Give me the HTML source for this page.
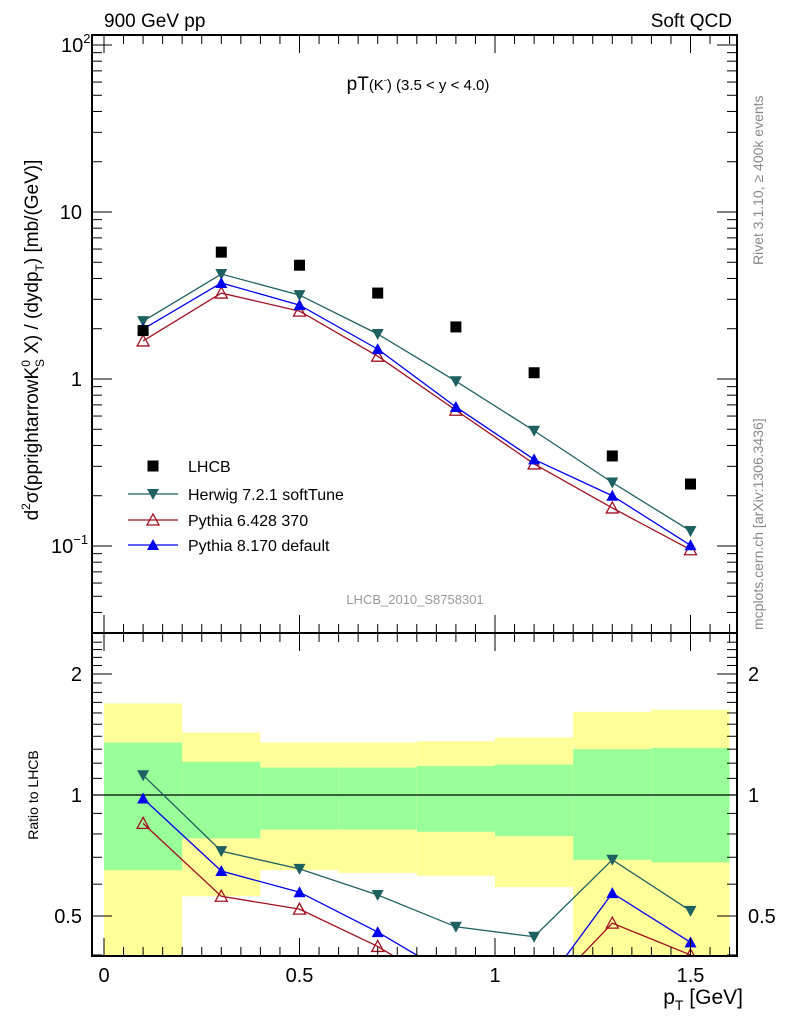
<!DOCTYPE html>
<html><head><meta charset="utf-8">
<style>
html,body{margin:0;padding:0;background:#fff;}
svg{display:block;font-family:"Liberation Sans",sans-serif;}
</style></head>
<body>
<svg id="chart" width="786" height="1024" viewBox="0 0 786 1024">
<text x="104" y="27" font-size="19">900 GeV pp</text>
<text x="732" y="27" font-size="19" text-anchor="end">Soft QCD</text>
<text x="418" y="90" font-size="19" text-anchor="middle">pT<tspan font-size="15">(K</tspan><tspan font-size="9" dy="-7">-</tspan><tspan font-size="15" dy="7">) (3.5 &lt; y &lt; 4.0)</tspan></text>
<text x="415" y="604" font-size="13" fill="#999" text-anchor="middle">LHCB_2010_S8758301</text>
<text transform="translate(763,265) rotate(-90)" font-size="14" fill="#888">Rivet 3.1.10, ≥ 400k events</text>
<text transform="translate(763,630) rotate(-90)" font-size="14" fill="#888">mcplots.cern.ch [arXiv:1306.3436]</text>
<text transform="translate(38,340) rotate(-90)" font-size="19" text-anchor="middle">d<tspan font-size="12" dy="-8">2</tspan><tspan dy="8">σ(pprightarrowK</tspan><tspan font-size="12" dy="-8">0</tspan><tspan font-size="12" dy="14" dx="-7">S</tspan><tspan dy="-6"> X) / (dydp</tspan><tspan font-size="12" dy="6">T</tspan><tspan dy="-6">) [mb/(GeV)]</tspan></text>
<text transform="translate(38,795) rotate(-90)" font-size="14" text-anchor="middle">Ratio to LHCB</text>
<text x="743" y="1004" font-size="21" text-anchor="end">p<tspan font-size="14" dy="6">T</tspan><tspan dy="-6"> [GeV]</tspan></text>
<g id="g"></g>
</svg>
<script>
const xBins=[0,0.2,0.4,0.6,0.8,1.0,1.2,1.4,1.6];
const xCenters=[0.1,0.3,0.5,0.7,0.9,1.1,1.3,1.5];
const lhcb=[1.95,5.75,4.8,3.27,2.05,1.09,0.346,0.235];
const herwig=[2.22,4.25,3.18,1.86,0.97,0.49,0.24,0.123];
const pythia6=[1.69,3.27,2.55,1.37,0.65,0.31,0.169,0.095];
const pythia8=[1.99,3.76,2.77,1.51,0.68,0.33,0.20,0.101];
const herwigRatio=[1.12,0.725,0.655,0.564,0.47,0.444,0.69,0.515];
const pythia6Ratio=[0.85,0.56,0.52,0.42,0.32,0.30,0.48,0.40];
const pythia8Ratio=[0.98,0.647,0.573,0.456,0.35,0.31,0.57,0.43];
const greenHi=[1.35,1.21,1.17,1.17,1.18,1.19,1.30,1.31];
const greenLo=[0.65,0.78,0.82,0.82,0.81,0.79,0.69,0.68];
const yellowHi=[1.69,1.43,1.35,1.35,1.36,1.39,1.61,1.63];
const yellowLo=[0.3,0.56,0.65,0.64,0.63,0.59,0.3,0.3];
const xTicks=[0,0.5,1,1.5];const xTickLabels=["0","0.5","1","1.5"];
const ratioTicks=[0.5,1,2];const ratioTickLabels=["0.5","1","2"];

const NS="http://www.w3.org/2000/svg";
const g=document.getElementById('g');
const L=92,R=737,T=35,B=633,RT=633,RB=956;
const X=v=>104+v*391;
const Y=v=>379-Math.log10(v)*167;
const RY=v=>795-Math.log2(v)*121;
function el(t,a,p){const e=document.createElementNS(NS,t);for(const k in a)e.setAttribute(k,a[k]);(p||g).appendChild(e);return e;}
const clip=el('clipPath',{id:'rc'});el('rect',{x:L,y:RT,width:R-L,height:RB-RT},clip);
const clip2=el('clipPath',{id:'mc'});el('rect',{x:L,y:T,width:R-L,height:B-T},clip2);
const rg=el('g',{'clip-path':'url(#rc)'});
for(let i=0;i<xCenters.length;i++){
 const x0=X(xBins[i]),x1=X(xBins[i+1]);
 const y=el('rect',{x:x0,y:RY(yellowHi[i]),width:x1-x0,height:RY(yellowLo[i])-RY(yellowHi[i]),fill:'#ffff99'},rg);
 
 
 const gr=el('rect',{x:x0,y:RY(greenHi[i]),width:x1-x0,height:RY(greenLo[i])-RY(greenHi[i]),fill:'#99ff99'},rg);
 
 
}
el('line',{x1:L,x2:R,y1:RY(1),y2:RY(1),stroke:'#000','stroke-width':1.2},rg);
function marker(par,type,x,y,c){
 let m;
 if(type==='sq')m=el('rect',{x:x-5.5,y:y-5.5,width:11,height:11,fill:c},par);
 else if(type==='down')m=el('path',{d:`M${x-6},${y-5}L${x+6},${y-5}L${x},${y+6}Z`,fill:c},par);
 else if(type==='up')m=el('path',{d:`M${x-6},${y+5}L${x+6},${y+5}L${x},${y-6}Z`,fill:c},par);
 else m=el('path',{d:`M${x-6},${y+5}L${x+6},${y+5}L${x},${y-6}Z`,fill:'none',stroke:c,'stroke-width':1.3},par);
 return m;
}
function series(par,vals,fy,color,type,name,line){
 if(line){const pl=el('polyline',{points:vals.map((v,i)=>X(xCenters[i])+','+fy(v)).join(' '),fill:'none',stroke:color,'stroke-width':1.3},par);
 
 }
 vals.forEach((v,i)=>{const m=marker(par,type,X(xCenters[i]),fy(v),color);
 
 });
}
const mg=el('g',{'clip-path':'url(#mc)'});
series(mg,herwig,Y,'#1f6060','down','herwig',true);
series(mg,pythia6,Y,'#a01020','open','pythia6',true);
series(mg,pythia8,Y,'#0000ee','up','pythia8',true);
series(mg,lhcb,Y,'#000','sq','lhcb',false);
series(rg,herwigRatio,RY,'#1f6060','down','herwig-ratio',true);
series(rg,pythia6Ratio,RY,'#a01020','open','pythia6-ratio',true);
series(rg,pythia8Ratio,RY,'#0000ee','up','pythia8-ratio',true);
el('rect',{x:L,y:T,width:R-L,height:B-T,fill:'none',stroke:'#000','stroke-width':2});
el('rect',{x:L,y:RT,width:R-L,height:RB-RT,fill:'none',stroke:'#000','stroke-width':2});
for(let v=0;v<=1.62;v+=0.05){const x=X(v);const major=Math.abs(v*2-Math.round(v*2))<1e-6;const len=major?18:9;
 [[T,1],[RT,-1],[RT,1],[RB,-1]].forEach(([y0,d])=>{if(x>L&&x<R)el('line',{x1:x,x2:x,y1:y0,y2:y0+d*len,stroke:'#000','stroke-width':1});});}
xTicks.forEach((v,i)=>{const t=el('text',{x:X(v),y:982,'font-size':20,'text-anchor':'middle'});t.textContent=xTickLabels[i];

});
for(let d=-2;d<=2;d++)for(let k=1;k<10;k++){const v=k*Math.pow(10,d);const y=Y(v);if(y<T||y>B)continue;const len=k===1?20:10;
 el('line',{x1:L,x2:L+len,y1:y,y2:y,stroke:'#000'});el('line',{x1:R,x2:R-len,y1:y,y2:y,stroke:'#000'});}
[[100,'10','2'],[10,'10',''],[1,'1',''],[0.1,'10','−1']].forEach(([v,b,e])=>{const t=el('text',{x:e?(e==='2'?61:51):82,y:Y(v)+7,'font-size':20,'text-anchor':e?'start':'end'});
 t.textContent=b;if(e){const s=el('tspan',{'font-size':13,dy:-9},t);s.textContent=e;}
 
 });
const rticks=[0.4,0.5,0.6,0.7,0.8,0.9,1,1.1,1.2,1.3,1.4,1.5,1.6,1.7,1.8,1.9,2,2.1,2.2,2.3,2.4];
rticks.forEach(v=>{const y=RY(v);if(y<RT||y>RB)return;const len=ratioTicks.includes(v)?20:10;
 el('line',{x1:L,x2:L+len,y1:y,y2:y,stroke:'#000'});el('line',{x1:R,x2:R-len,y1:y,y2:y,stroke:'#000'});});
ratioTicks.forEach((v,i)=>{[[82,'end'],[748,'start']].forEach(([x,a])=>{const t=el('text',{x:x,y:RY(v)+7,'font-size':20,'text-anchor':a});t.textContent=ratioTickLabels[i];
 
 });});
const leg=[['LHCB','sq','#000',466],['Herwig 7.2.1 softTune','down','#1f6060',494],['Pythia 6.428 370','open','#a01020',520],['Pythia 8.170 default','up','#0000ee',545]];
leg.forEach(([n,t,c,y],i)=>{
 if(i>0)el('line',{x1:128,x2:178,y1:y,y2:y,stroke:c,'stroke-width':1.3});
 const m=marker(g,t,153,y,c);
 
 
 const tx=el('text',{x:188,y:y+6,'font-size':16});tx.textContent=n;
 
 
});
</script>
</body></html>
